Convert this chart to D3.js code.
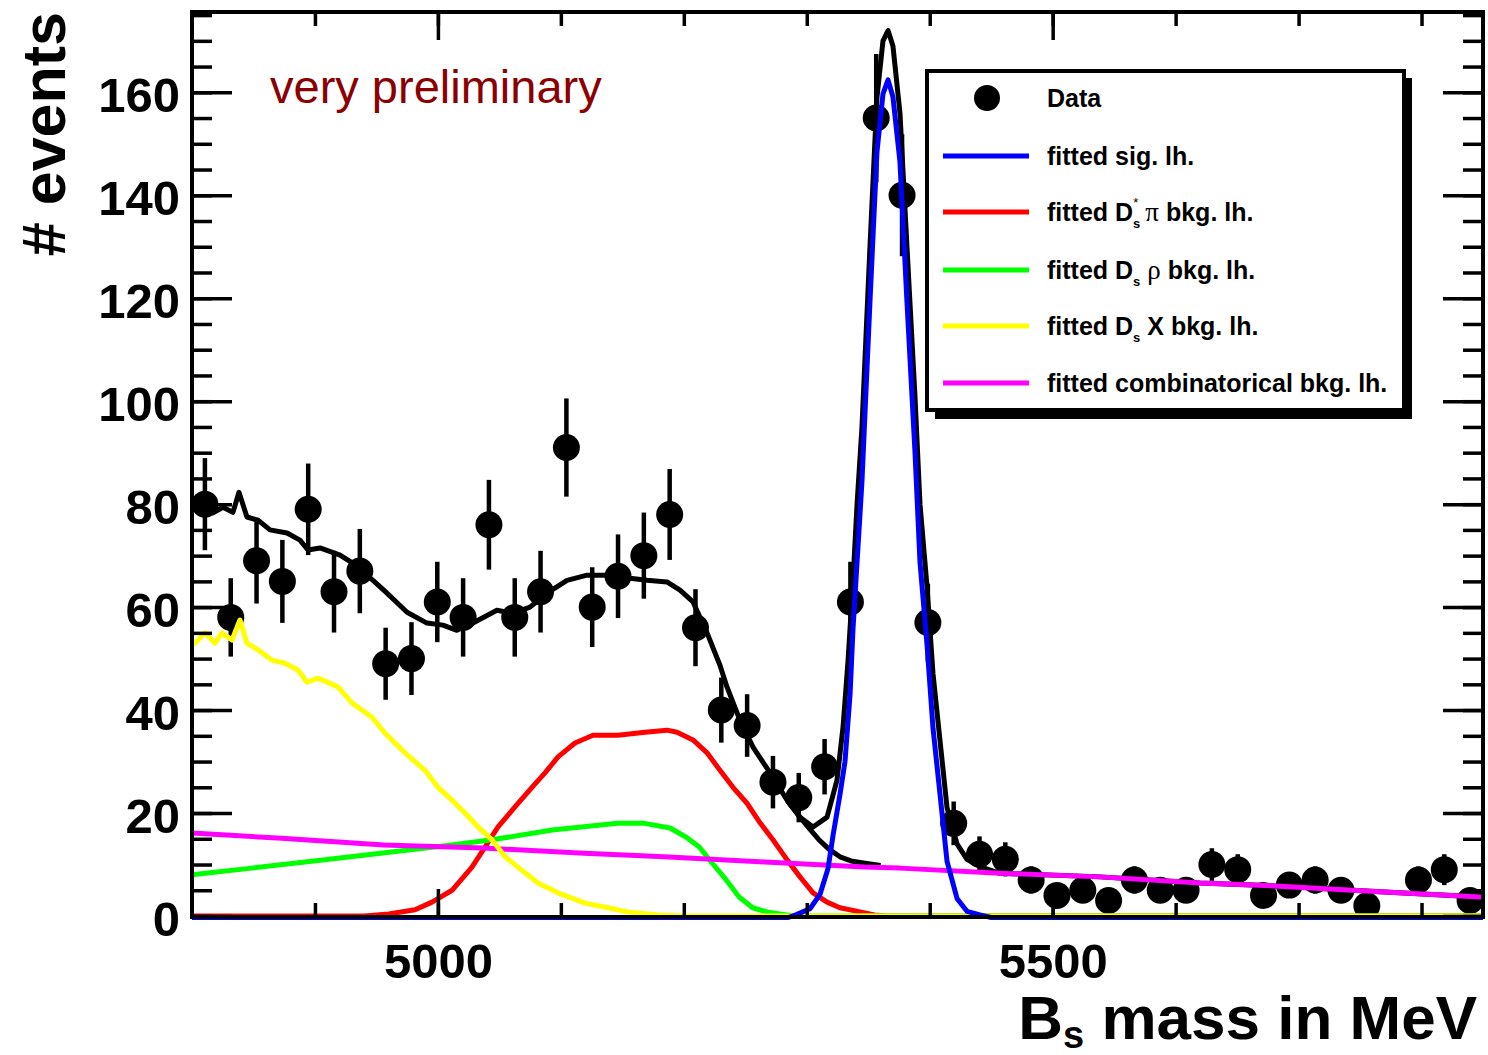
<!DOCTYPE html>
<html>
<head>
<meta charset="utf-8">
<script src="https://cdn.jsdelivr.net/npm/d3@7"></script>
<style>
  html, body { margin: 0; padding: 0; background: #fff; }
  svg { display: block; }
  text { font-family: "Liberation Sans", Arial, Helvetica, sans-serif; }
</style>
</head>
<body>
<svg id="chart" width="1488" height="1055"></svg>
<script>
// ---------------- DATA ----------------
const massBins = [4810.5, 4831.5, 4852.5, 4873.5, 4894.5, 4915.5, 4936.5, 4957.5, 4978.5, 4999.5,
  5020.5, 5041.5, 5062.5, 5083.5, 5104.5, 5125.5, 5146.5, 5167.5, 5188.5, 5209.5,
  5230.5, 5251.5, 5272.5, 5293.5, 5314.5, 5335.5, 5356.5, 5377.5, 5398.5, 5419.5,
  5440.5, 5461.5, 5482.5, 5503.5, 5524.5, 5545.5, 5566.5, 5587.5, 5608.5, 5629.5,
  5650.5, 5671.5, 5692.5, 5713.5, 5734.5, 5755.5, 5776.5, 5797.5, 5818.5, 5839.5];
const counts = [80, 58, 69, 65, 79, 63, 67, 49, 50, 61,
  58, 76, 58, 63, 91, 60, 66, 70, 78, 56,
  40, 37, 26, 23, 29, 61, 155, 140, 57, 18,
  12, 11, 7, 4, 5, 3, 7, 5, 5, 10,
  9, 4, 6, 7, 5, 2, 0, 7, 9, 3];

// fitted curves: [mass, events]
const totalFit = [[4800, 81], [4802.4, 80.8], [4810, 79.5], [4817.1, 78.3], [4825.2, 79.4], [4833.3, 78.4],
  [4838.2, 82.3], [4844.7, 77.5], [4853.7, 76.9], [4863.4, 75.0], [4877.3, 74.4], [4887.8, 73.0],
  [4894.3, 71.1], [4904.1, 71.5], [4920.4, 70.1], [4931, 68.5], [4947.2, 65.2], [4958.6, 62.7],
  [4974.9, 59.0], [4991.1, 56.9], [5004.1, 56.5], [5015.5, 55.5], [5028.5, 56.9], [5048, 59.4],
  [5061, 58.8], [5074.9, 60], [5088.7, 62.7], [5105, 65.2], [5121.3, 66.2], [5142.4, 66.2],
  [5156.2, 65.6], [5170.1, 65.2], [5186.3, 64.9], [5196.9, 63.3], [5207.5, 61], [5218.9, 55],
  [5229.4, 48.7], [5235.1, 44.5], [5245.7, 38], [5256.3, 32.8], [5270.1, 27.8], [5284, 22.5],
  [5294.5, 19.2], [5305.1, 17.3], [5316.5, 19.2], [5324.6, 26.4], [5329.5, 36.7], [5333.6, 49.7],
  [5337.6, 65], [5340.9, 80], [5344.9, 95], [5351.4, 130], [5357.1, 159], [5362, 170],
  [5366.1, 172], [5370.1, 169], [5375.8, 156], [5381.5, 130], [5388, 101], [5392.1, 80],
  [5397.8, 64], [5402.7, 47], [5408.4, 34], [5414.1, 21], [5422.2, 14], [5430.3, 11],
  [5440.9, 9.6], [5457, 8.3], [5538.5, 7.6], [5619.8, 6.4], [5684.9, 5.8], [5766.2, 4.7],
  [5847.6, 3.7], [5850, 3.7]];
const bkgSumTail = [[5284, 22.5], [5294.5, 19.2], [5302, 17.0], [5310, 14.8], [5318, 13.0],
  [5327, 11.5], [5336, 10.7], [5346, 10.3], [5360, 9.8]];
const sigFit = [[4800, 0], [5285, 0], [5292.1, 0.6], [5302.6, 1.7], [5310.8, 4.5], [5317.3, 9.5],
  [5321.4, 16], [5327, 23.9], [5331.1, 30.3], [5335.2, 43.3], [5337.6, 56], [5340.9, 69],
  [5344.9, 84.7], [5351.4, 119.6], [5357.1, 148.7], [5362, 160], [5366.1, 162.7], [5370.1, 159.4],
  [5375.8, 146.8], [5381.5, 119.6], [5388, 90.5], [5392.1, 69], [5397.8, 53], [5402.7, 36.7],
  [5408.4, 23.9], [5414.1, 10.9], [5422.2, 3.7], [5430.3, 1.2], [5440.9, 0.5], [5450, 0], [5850, 0]];
const dsStarPiFit = [[4800, 0], [4940, 0], [4960, 0.4], [4981.4, 1.2], [4995.2, 2.7], [5011.5, 5],
  [5027.7, 9.5], [5038.3, 13.4], [5048.9, 17.3], [5062.7, 21.2], [5076.5, 25], [5087.1, 27.8],
  [5097.7, 30.9], [5111.5, 33.6], [5126.1, 35.1], [5146.5, 35.1], [5168.4, 35.7], [5186.3, 36.1],
  [5194.5, 35.7], [5207.5, 34.2], [5218.9, 31.7], [5229.4, 28.3], [5240, 25], [5251.4, 21.9],
  [5262, 18.1], [5272.5, 14.8], [5284, 10.9], [5294.5, 7.6], [5305.1, 4.5], [5316.5, 2.7],
  [5327, 1.6], [5343.3, 0.8], [5355, 0.2], [5365, 0], [5850, 0]];
const dsRhoFit = [[4800, 8.0], [4848.5, 9.3], [4902.8, 10.8], [4957, 12.3], [5011.2, 13.8], [5044, 14.8],
  [5093, 16.7], [5146, 18], [5168, 18], [5188.8, 17.1], [5202, 15.3], [5212.6, 13.4], [5223, 10.3],
  [5234.5, 7], [5245, 3.7], [5256, 1.6], [5267.6, 0.8], [5278, 0.4], [5290, 0], [5850, 0]];
const dsXFit = [[4800, 53], [4802.4, 53], [4810.6, 55], [4818.7, 53], [4824.4, 55], [4832.5, 53.6],
  [4839, 57.5], [4844.7, 53], [4853.7, 51.7], [4865.1, 49.7], [4875.6, 49.1], [4886.2, 47.8],
  [4893.5, 45.4], [4902.5, 46.2], [4918.7, 44.5], [4930.1, 41.4], [4946.4, 38.6], [4957, 35.5],
  [4973.2, 31.7], [4989.5, 28.3], [5000.1, 25], [5011.5, 22.5], [5022, 20], [5032.6, 17.3],
  [5044, 14.8], [5054.6, 11.5], [5065.1, 9.5], [5081.4, 6.4], [5097.7, 4.5], [5119.6, 2.5],
  [5146.5, 1.2], [5153.8, 0.8], [5180, 0.2], [5200, 0], [5850, 0]];
const combFit = [[4800, 16.1], [4873, 15.1], [4956, 13.8], [5037, 13.2], [5119, 12.2], [5184, 11.5],
  [5266, 10.5], [5347, 9.5], [5375.8, 9.3], [5457, 8.3], [5538.5, 7.6], [5619.8, 6.4],
  [5684.9, 5.8], [5766.2, 4.7], [5847.6, 3.7], [5850, 3.7]];

const yTickLabels = [0, 20, 40, 60, 80, 100, 120, 140, 160];
const yMinorTicks = d3.range(0, 176, 5);
const xTickLabels = [5000, 5500];
const xMinorTicks = [4900, 5000, 5100, 5200, 5300, 5400, 5500, 5600, 5700, 5800];

// ---------------- LAYOUT ----------------
const svg = d3.select("#chart");
const L = 192, R = 1483, T = 12, B = 917;
const x = d3.scaleLinear().domain([4800, 5850]).range([L, R]);
const y = d3.scaleLinear().domain([0, 175.6]).range([916, T]);
const FONT = '"Liberation Sans", Arial, Helvetica, sans-serif';
const SERIF = '"Liberation Serif", "DejaVu Serif", serif';

svg.append("rect").attr("width", 1488).attr("height", 1055).attr("fill", "#fff");

svg.append("defs").append("clipPath").attr("id", "frameClip")
  .append("rect").attr("x", L).attr("y", T).attr("width", R - L).attr("height", B - T + 3);

const plot = svg.append("g").attr("clip-path", "url(#frameClip)");

// data points
const pts = massBins.map((m, i) => ({ m, n: counts[i] })).filter(d => d.n > 0);
plot.append("g").selectAll("line").data(pts).join("line")
  .attr("x1", d => x(d.m)).attr("x2", d => x(d.m))
  .attr("y1", d => y(d.n + Math.sqrt(d.n))).attr("y2", d => y(d.n - Math.sqrt(d.n)))
  .attr("stroke", "#000").attr("stroke-width", 4.5);
plot.append("g").selectAll("circle").data(pts).join("circle")
  .attr("cx", d => x(d.m)).attr("cy", d => y(d.n)).attr("r", 13.5).attr("fill", "#000");

const line = d3.line().x(d => x(d[0])).y(d => y(d[1]));
function curve(data, color, w, dy) {
  plot.append("path").datum(data).attr("d", line)
    .attr("fill", "none").attr("stroke", color).attr("stroke-width", w)
    .attr("stroke-linejoin", "round")
    .attr("transform", dy ? `translate(0,${dy})` : null);
}
curve(totalFit, "#000", 5);
curve(bkgSumTail, "#000", 5);
curve(dsStarPiFit, "#ff0000", 5);
curve(dsRhoFit, "#00ff00", 5);
curve(combFit, "#ff00ff", 5);
curve(dsXFit, "#ffff00", 5);
curve(sigFit, "#0000ff", 5, 1.5);

// frame
svg.append("rect").attr("x", L).attr("y", T).attr("width", R - L).attr("height", B - T)
  .attr("fill", "none").attr("stroke", "#000").attr("stroke-width", 4);

// ticks (inside, all four sides)
function styleTicks(g) { g.select(".domain").remove(); g.selectAll("line").attr("stroke", "#000").attr("stroke-width", 3.5); g.selectAll("text").remove(); }
svg.append("g").attr("transform", `translate(${L},0)`)
  .call(d3.axisRight(y).tickValues(yMinorTicks).tickSize(20)).call(styleTicks);
svg.append("g").attr("transform", `translate(${L},0)`)
  .call(d3.axisRight(y).tickValues(yTickLabels).tickSize(40)).call(styleTicks);
svg.append("g").attr("transform", `translate(${R},0)`)
  .call(d3.axisLeft(y).tickValues(yMinorTicks).tickSize(20)).call(styleTicks);
svg.append("g").attr("transform", `translate(${R},0)`)
  .call(d3.axisLeft(y).tickValues(yTickLabels).tickSize(40)).call(styleTicks);
svg.append("g").attr("transform", `translate(0,${B})`)
  .call(d3.axisTop(x).tickValues(xMinorTicks).tickSize(14)).call(styleTicks);
svg.append("g").attr("transform", `translate(0,${B})`)
  .call(d3.axisTop(x).tickValues(xTickLabels).tickSize(28)).call(styleTicks);
svg.append("g").attr("transform", `translate(0,${T})`)
  .call(d3.axisBottom(x).tickValues(xMinorTicks).tickSize(14)).call(styleTicks);
svg.append("g").attr("transform", `translate(0,${T})`)
  .call(d3.axisBottom(x).tickValues(xTickLabels).tickSize(28)).call(styleTicks);

// tick labels
const yLab = svg.append("g").attr("transform", `translate(${L},0)`)
  .call(d3.axisLeft(y).tickValues(yTickLabels).tickSize(0).tickPadding(12).tickFormat(d3.format("d")));
yLab.select(".domain").remove();
yLab.selectAll("text").attr("font-family", FONT).attr("font-weight", "bold")
  .attr("font-size", 49).attr("fill", "#000").attr("dy", "0.40em");
const xLab = svg.append("g").attr("transform", `translate(0,${B})`)
  .call(d3.axisBottom(x).tickValues(xTickLabels).tickSize(0).tickPadding(26).tickFormat(d3.format("d")));
xLab.select(".domain").remove();
xLab.selectAll("text").attr("font-family", FONT).attr("font-weight", "bold")
  .attr("font-size", 49).attr("fill", "#000");

// axis titles
const xt = svg.append("text").attr("x", 1477).attr("y", 1039).attr("text-anchor", "end")
  .attr("font-weight", "bold").attr("font-size", 62).attr("fill", "#000");
xt.append("tspan").text("B");
xt.append("tspan").attr("font-size", 38).attr("dy", 9).text("s");
xt.append("tspan").attr("dy", -9).text(" mass in MeV");

svg.append("text").attr("transform", "translate(65,12) rotate(-90)").attr("text-anchor", "end")
  .attr("font-weight", "bold").attr("font-size", 61).attr("fill", "#000").text("# events");

svg.append("text").attr("x", 270).attr("y", 103).attr("font-size", 47)
  .attr("fill", "#8b0000").text("very preliminary");

// legend
const lg = svg.append("g");
lg.append("rect").attr("x", 935).attr("y", 78).attr("width", 477).attr("height", 341).attr("fill", "#000");
lg.append("rect").attr("x", 927).attr("y", 71).attr("width", 477).attr("height", 339)
  .attr("fill", "#fff").attr("stroke", "#000").attr("stroke-width", 4);
lg.append("circle").attr("cx", 987).attr("cy", 98).attr("r", 13).attr("fill", "#000");

const legendItems = [
  { y: 98, label: [["Data"]] },
  { y: 156, color: "#0000ff", label: [["fitted sig. lh."]] },
  { y: 212, color: "#ff0000", label: [["fitted D"], ["s", "sub"], ["*", "sup"], [" "], ["\u03c0", "greek"], [" bkg. lh."]] },
  { y: 270, color: "#00ff00", label: [["fitted D"], ["s", "sub"], [" "], ["\u03c1", "greek"], [" bkg. lh."]] },
  { y: 326, color: "#ffff00", label: [["fitted D"], ["s", "sub"], [" X bkg. lh."]] },
  { y: 383, color: "#ff00ff", label: [["fitted combinatorical bkg. lh."]] }
];
legendItems.forEach(it => {
  if (it.color) {
    lg.append("line").attr("x1", 943).attr("x2", 1029).attr("y1", it.y).attr("y2", it.y)
      .attr("stroke", it.color).attr("stroke-width", 5);
  }
  const t = lg.append("text").attr("x", 1047).attr("y", it.y + 9)
    .attr("font-weight", "bold").attr("font-size", 25).attr("fill", "#000");
  let cur = 0;
  it.label.forEach(([s, kind]) => {
    const ts = t.append("tspan").text(s);
    let target = 0;
    if (kind === "sub") { target = 7; ts.attr("font-size", 13); }
    else if (kind === "sup") { target = -14; ts.attr("font-size", 13).attr("dx", -7).attr("font-weight", "normal"); }
    else if (kind === "greek") { ts.attr("font-family", SERIF).attr("font-weight", "normal").attr("font-size", 27); }
    ts.attr("dy", target - cur);
    cur = target;
  });
});
</script>
</body>
</html>
